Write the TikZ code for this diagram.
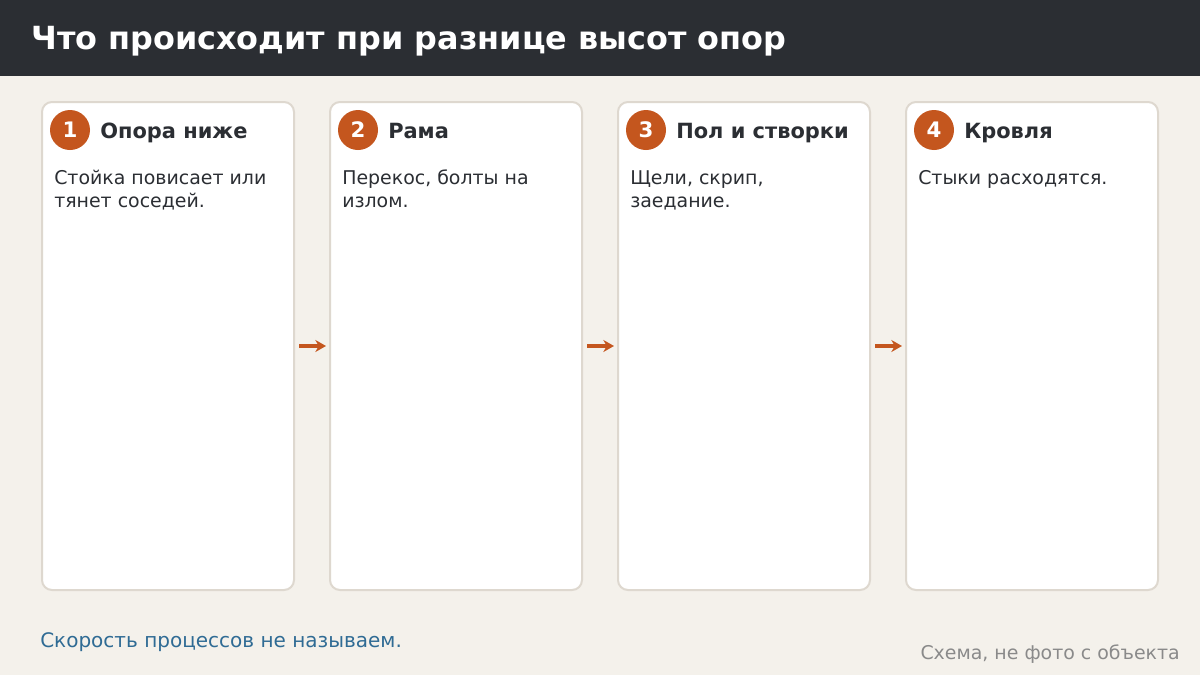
\documentclass[tikz,border=0pt]{standalone}
\usepackage{fontspec}
\setmainfont{DejaVu Sans}
\usetikzlibrary{positioning,arrows.meta}
\definecolor{headbg}{HTML}{2B2E33}
\definecolor{pagebg}{HTML}{F4F1EB}
\definecolor{cardline}{HTML}{DED8CF}
\definecolor{accent}{HTML}{C4561E}
\definecolor{inkdark}{HTML}{2B2E33}
\definecolor{noteblue}{HTML}{2F6B94}
\definecolor{notegrey}{HTML}{8A8A8A}

\begin{document}
\begin{tikzpicture}[x=0.75pt,y=-0.75pt,
  card/.style={draw=cardline,line width=1.5pt,fill=white,rounded corners=7.5pt,
    minimum width=189pt,minimum height=366pt,inner sep=0pt},
  badge/.style={circle,fill=accent,minimum size=30pt,inner sep=0pt,text=white,
    font=\bfseries\fontsize{16}{19}\selectfont},
  cardtitle/.style={anchor=base west,inner sep=0pt,text=inkdark,
    font=\bfseries\fontsize{15.7}{19}\selectfont},
  cardtext/.style={anchor=base west,inner sep=0pt,text=inkdark,align=left,
    font=\fontsize{14.2}{17.25}\selectfont},
  flow/.style={draw=accent,line width=2.6pt,-{Stealth[length=8pt,width=9pt]},
    shorten <=3pt,shorten >=2.25pt}]
  \useasboundingbox (0,0) rectangle (1200,675);
  \fill[pagebg] (0,0) rectangle (1200,675);
  \fill[headbg] (0,0) rectangle (1200,76);
  \node[anchor=base west,inner sep=0pt,text=white,font=\bfseries\fontsize{23.9}{28}\selectfont]
    (title) at (31,49) {Что происходит при разнице высот опор};

  % cards (last number: baseline of the last text line)
  \foreach \i/\x/\head/\body/\yb in {1/41/{Опора ниже}/{Стойка повисает или\\тянет соседей.}/207,
      2/329/{Рама}/{Перекос, болты на\\излом.}/207,
      3/617/{Пол и створки}/{Щели, скрип,\\заедание.}/207,
      4/905/{Кровля}/{Стыки расходятся.}/184}{
    \node[card,anchor=north west] (c\i) at (\x,101) {};
    \node[badge] (b\i) at (\x+29,130) {\i};
    \node[cardtitle] (h\i) at (\x+59,138) {\head};
    \node[cardtext] (t\i) at (\x+13,\yb) {\body};
  }

  \draw[flow] (c1.east) -- (c2.west);
  \draw[flow] (c2.east) -- (c3.west);
  \draw[flow] (c3.east) -- (c4.west);

  \node[anchor=base west,inner sep=0pt,text=noteblue,font=\fontsize{15}{18}\selectfont]
    (note) at (40,647) {Скорость процессов не называем.};
  \node[anchor=base east,inner sep=0pt,text=notegrey,font=\fontsize{14.2}{17}\selectfont]
    (src) at (1180,659) {Схема, не фото с объекта};
\end{tikzpicture}
\end{document}
